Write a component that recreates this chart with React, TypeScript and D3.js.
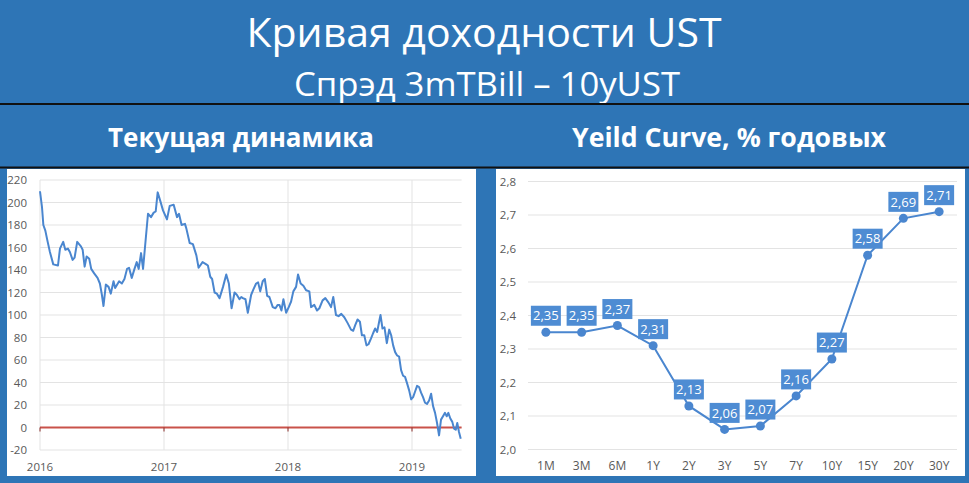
import React from 'react';
import * as d3 from 'd3';

// spread 3m T-Bill vs 10y UST, b.p. (decimal years)
const spreadYears = [
  2016.0, 2016.016, 2016.027, 2016.043, 2016.062, 2016.08, 2016.107, 2016.145, 2016.161, 2016.187,
  2016.204, 2016.225, 2016.241, 2016.263, 2016.279, 2016.3, 2016.33, 2016.344, 2016.36, 2016.376,
  2016.397, 2016.413, 2016.437, 2016.464, 2016.483, 2016.499, 2016.512, 2016.531, 2016.553, 2016.571,
  2016.593, 2016.606, 2016.638, 2016.66, 2016.681, 2016.702, 2016.718, 2016.74, 2016.762, 2016.78,
  2016.796, 2016.815, 2016.831, 2016.853, 2016.871, 2016.895, 2016.917, 2016.933, 2016.949, 2016.971,
  2016.992, 2017.024, 2017.046, 2017.078, 2017.105, 2017.121, 2017.142, 2017.169, 2017.18, 2017.207,
  2017.233, 2017.261, 2017.279, 2017.311, 2017.341, 2017.354, 2017.373, 2017.388, 2017.408, 2017.426,
  2017.448, 2017.476, 2017.502, 2017.523, 2017.545, 2017.569, 2017.587, 2017.609, 2017.623, 2017.636,
  2017.657, 2017.676, 2017.703, 2017.722, 2017.743, 2017.759, 2017.776, 2017.796, 2017.813, 2017.832,
  2017.85, 2017.877, 2017.899, 2017.917, 2017.931, 2017.947, 2017.963, 2017.985, 2018.006, 2018.025,
  2018.043, 2018.065, 2018.081, 2018.102, 2018.124, 2018.146, 2018.172, 2018.186, 2018.212, 2018.234,
  2018.253, 2018.279, 2018.301, 2018.327, 2018.347, 2018.365, 2018.387, 2018.408, 2018.43, 2018.454,
  2018.48, 2018.508, 2018.526, 2018.542, 2018.561, 2018.58, 2018.596, 2018.615, 2018.633, 2018.649,
  2018.669, 2018.687, 2018.703, 2018.719, 2018.735, 2018.746, 2018.762, 2018.778, 2018.797, 2018.816,
  2018.832, 2018.848, 2018.864, 2018.88, 2018.896, 2018.912, 2018.928, 2018.944, 2018.961, 2018.977,
  2018.993, 2019.009, 2019.025, 2019.041, 2019.057, 2019.073, 2019.089, 2019.105, 2019.121, 2019.138,
  2019.154, 2019.17, 2019.186, 2019.202, 2019.218, 2019.234, 2019.25, 2019.266, 2019.28, 2019.293,
  2019.309, 2019.325, 2019.339, 2019.353, 2019.365, 2019.379, 2019.393,
];
const spreadValues = [
  210, 196, 180, 175, 165, 156, 145, 144, 159, 165,
  158, 159, 156, 149, 151, 165, 161, 158, 143, 152,
  150, 141, 137, 133, 128, 118, 108, 127, 125, 119,
  130, 124, 130, 128, 132, 141, 142, 133, 141, 147,
  141, 155, 141, 168, 190, 187, 191, 192, 209, 201,
  193, 185, 197, 198, 187, 190, 180, 181, 177, 164,
  163, 153, 142, 147, 145, 144, 134, 132, 120, 119,
  115, 125, 136, 128, 106, 120, 118, 114, 116, 115,
  114, 102, 118, 123, 128, 129, 121, 130, 132, 117,
  116, 107, 106, 109, 109, 104, 114, 102, 107, 112,
  121, 125, 136, 128, 126, 122, 121, 107, 109, 104,
  106, 113, 115, 111, 107, 116, 100, 99, 101, 98,
  93, 87, 86, 91, 96, 94, 82, 82, 73, 74,
  79, 84, 88, 85, 94, 100, 88, 89, 75, 87,
  82, 73, 67, 64, 63, 51, 46, 45, 39, 33,
  25, 27, 32, 37, 36, 31, 27, 22, 21, 24,
  30, 19, 13, 4, -7, 7, 10, 13, 10, 13,
  8, 5, -1, -2, 4, -4, -10,
];
const spreadTicks = [-20, 0, 20, 40, 60, 80, 100, 120, 140, 160, 180, 200, 220];
const yearTicks = [2016, 2017, 2018, 2019];

// yield curve, % p.a.
const tenors = ['1M', '3M', '6M', '1Y', '2Y', '3Y', '5Y', '7Y', '10Y', '15Y', '20Y', '30Y'];
const yields = [2.35, 2.35, 2.37, 2.31, 2.13, 2.06, 2.07, 2.16, 2.27, 2.58, 2.69, 2.71];
const yieldTicks = [2.0, 2.1, 2.2, 2.3, 2.4, 2.5, 2.6, 2.7, 2.8];

const BG = '#2e75b6';
const LINE = '#4a86cf';
const LABEL_BOX = '#4e8cd3';
const GRID = '#e3e3e3';
const AXIS_TEXT = '#595959';
const FONT = "'Open Sans', 'Noto Sans', sans-serif";

const comma = (v: number, f: string) => d3.format(f)(v).replace('.', ',');

const SpreadChart = () => {
  const x = d3.scaleLinear().domain([2016, 2019.4]).range([40, 461.6]);
  const y = d3.scaleLinear().domain([-20, 220]).range([450, 180]);
  const pts: [number, number][] = spreadYears.map((t, i) => [t, spreadValues[i]]);
  const line = d3
    .line<[number, number]>()
    .x((d) => x(d[0]))
    .y((d) => y(d[1]));

  return (
    <g>
      <rect x={7} y={169} width={469} height={307} fill="#fff" />
      {spreadTicks.map((t) => (
        <g key={t}>
          <line x1={x.range()[0]} x2={x.range()[1]} y1={y(t)} y2={y(t)} stroke={GRID} strokeWidth={1} />
          <text x={27} y={y(t)} dy="0.35em" textAnchor="end" fontSize={11.5} fill={AXIS_TEXT} fontFamily={FONT}>
            {t}
          </text>
        </g>
      ))}
      {yearTicks.map((t) => (
        <g key={t}>
          <line x1={x(t)} x2={x(t)} y1={y(220)} y2={y(-20)} stroke={GRID} strokeWidth={1} />
          <text x={x(t)} y={y(-20) + 21} textAnchor="middle" fontSize={11.5} fill={AXIS_TEXT} fontFamily={FONT}>
            {t}
          </text>
        </g>
      ))}
      <line x1={x.range()[0]} x2={x.range()[1]} y1={y(0)} y2={y(0)} stroke="#c9524a" strokeWidth={2} />
      {yearTicks.map((t) => (
        <line key={t} x1={x(t)} x2={x(t)} y1={y(0)} y2={y(0) + 4} stroke="#8b2e2a" strokeWidth={1} />
      ))}
      <path d={line(pts) ?? ''} fill="none" stroke={LINE} strokeWidth={2} strokeLinejoin="round" />
    </g>
  );
};

const CurveChart = () => {
  const x = d3.scalePoint<string>().domain(tenors).range([528, 957]).padding(0.5);
  const y = d3.scaleLinear().domain([2.0, 2.8]).range([449.5, 181.5]);
  const line = d3
    .line<number>()
    .x((_, i) => x(tenors[i]) ?? 0)
    .y((d) => y(d));

  return (
    <g>
      <rect x={496} y={169} width={469} height={307} fill="#fff" />
      {yieldTicks.map((t) => (
        <g key={t}>
          <line x1={528} x2={957} y1={y(t)} y2={y(t)} stroke={GRID} strokeWidth={1} />
          <text x={516} y={y(t)} dy="0.35em" textAnchor="end" fontSize={11.5} fill={AXIS_TEXT} fontFamily={FONT}>
            {comma(t, '.1f')}
          </text>
        </g>
      ))}
      {tenors.map((c) => (
        <text key={c} x={x(c)} y={470} textAnchor="middle" fontSize={12} fill={AXIS_TEXT} fontFamily={FONT}>
          {c}
        </text>
      ))}
      <path d={line(yields) ?? ''} fill="none" stroke={LINE} strokeWidth={2} />
      {yields.map((v, i) => (
        <circle key={i} cx={x(tenors[i])} cy={y(v)} r={4.5} fill={LINE} />
      ))}
      {yields.map((v, i) => {
        const cx = x(tenors[i]) ?? 0;
        const cy = y(v) - 16.5;
        return (
          <g key={`l${i}`}>
            <rect x={cx - 15} y={cy - 10} width={30} height={20} fill={LABEL_BOX} />
            <text x={cx} y={cy} dy="0.36em" textAnchor="middle" fontSize={13} fill="#fff" fontFamily={FONT}>
              {comma(v, '.2f')}
            </text>
          </g>
        );
      })}
    </g>
  );
};

const App = () => (
  <>
    <style>{'body{margin:0;}'}</style>
    <svg width={969} height={483} style={{ display: 'block' }}>
      <rect width={969} height={483} fill={BG} />
      <text x={484} y={47} textAnchor="middle" fontSize={40} fill="#fff" fontFamily={FONT} textLength={475} lengthAdjust="spacingAndGlyphs">
        Кривая доходности UST
      </text>
      <text x={487} y={96} textAnchor="middle" fontSize={32} fill="#fff" fontFamily={FONT} textLength={386} lengthAdjust="spacingAndGlyphs">
        Спрэд 3mTBill – 10yUST
      </text>
      <line x1={0} x2={969} y1={104} y2={104} stroke="#111" strokeWidth={2} />
      <text x={241} y={147} textAnchor="middle" fontSize={26} fontWeight="bold" fill="#fff" fontFamily={FONT} textLength={266} lengthAdjust="spacingAndGlyphs">
        Текущая динамика
      </text>
      <text x={729} y={147} textAnchor="middle" fontSize={26} fontWeight="bold" fill="#fff" fontFamily={FONT} textLength={314} lengthAdjust="spacingAndGlyphs">
        Yeild Curve, % годовых
      </text>
      <line x1={0} x2={969} y1={167.5} y2={167.5} stroke="#111" strokeWidth={2} />
      <SpreadChart />
      <CurveChart />
    </svg>
  </>
);

export default App;
